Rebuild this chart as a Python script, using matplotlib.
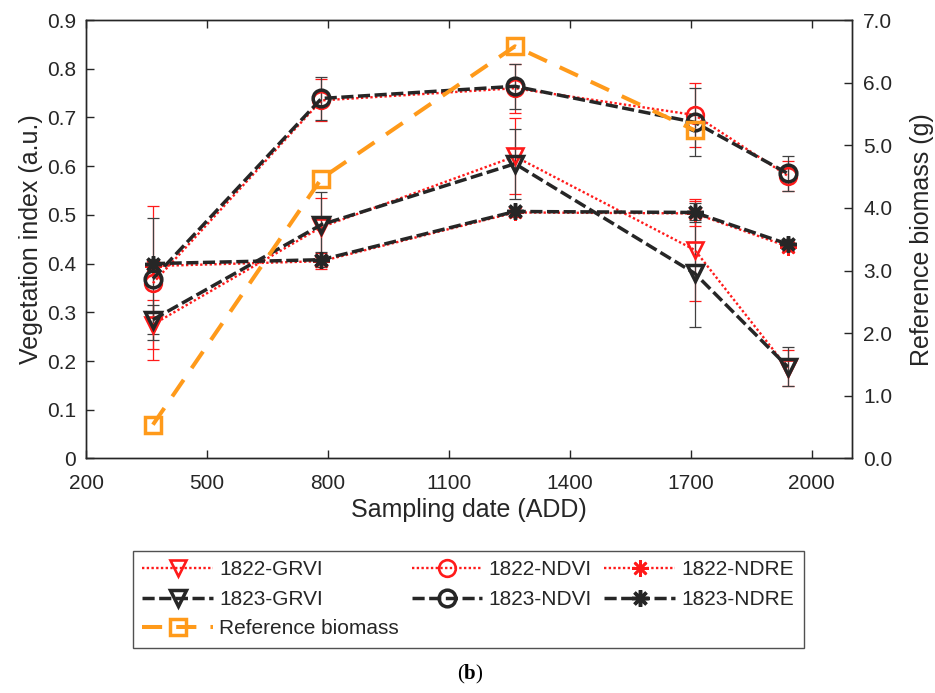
import numpy as np
import matplotlib
matplotlib.use("Agg")
import matplotlib.pyplot as plt
from matplotlib.ticker import MultipleLocator, FuncFormatter

plt.rcParams['font.family'] = ['Liberation Sans', 'DejaVu Sans']
plt.rcParams['mathtext.fontset'] = 'custom'
plt.rcParams['mathtext.rm'] = 'Liberation Serif'
plt.rcParams['mathtext.bf'] = 'Liberation Serif:bold'

# sampling dates (accumulated degree days)
add = [366, 784, 1264, 1710, 1941]

grvi_1822 = [0.275, 0.475, 0.620, 0.428, 0.185]
grvi_1822_sd = [0.050, 0.060, 0.078, 0.105, 0.037]
grvi_1823 = [0.285, 0.480, 0.605, 0.380, 0.188]
grvi_1823_sd = [0.030, 0.067, 0.072, 0.110, 0.040]

ndvi_1822 = [0.360, 0.735, 0.760, 0.705, 0.580]
ndvi_1822_sd = [0.158, 0.043, 0.050, 0.066, 0.030]
ndvi_1823 = [0.369, 0.739, 0.764, 0.690, 0.585]
ndvi_1823_sd = [0.125, 0.045, 0.046, 0.070, 0.036]

ndre_1822 = [0.395, 0.405, 0.505, 0.503, 0.435]
ndre_1822_sd = [0.010, 0.017, 0.010, 0.025, 0.010]
ndre_1823 = [0.400, 0.408, 0.507, 0.505, 0.440]
ndre_1823_sd = [0.010, 0.015, 0.010, 0.020, 0.010]

# reference biomass (g), right axis
biomass_add = [366, 784, 1264, 1710]
biomass = [0.54, 4.47, 6.58, 5.24]

xticks = [200, 500, 800, 1100, 1400, 1700, 2000]

RED = '#ff1a1a'
DARK = '#262626'
ORANGE = '#ff9a1a'

fig = plt.figure(figsize=(9.35, 6.93), dpi=100)
ax1 = fig.add_axes([0.092, 0.3384, 0.8192, 0.6327])

red_style = dict(color=RED, linestyle=(0, (1, 1)), linewidth=1.7,
                 markerfacecolor='none', markeredgecolor=RED, markeredgewidth=1.9)
dark_style = dict(color=DARK, linestyle=(0, (3.5, 1.3)), linewidth=2.5,
                  markerfacecolor='none', markeredgecolor=DARK, markeredgewidth=2.5)
asterisk = (8, 2, 0)

series = [
    (grvi_1822, grvi_1822_sd, 'v', 12, red_style, '1822-GRVI'),
    (grvi_1823, grvi_1823_sd, 'v', 12, dark_style, '1823-GRVI'),
    (ndvi_1822, ndvi_1822_sd, 'o', 12, red_style, '1822-NDVI'),
    (ndvi_1823, ndvi_1823_sd, 'o', 12, dark_style, '1823-NDVI'),
    (ndre_1822, ndre_1822_sd, asterisk, 12, red_style, '1822-NDRE'),
    (ndre_1823, ndre_1823_sd, asterisk, 12, dark_style, '1823-NDRE'),
]

handles = {}
for vals, sd, mk, ms, st, name in series:
    ecol = RED if st is red_style else '#404040'
    ax1.errorbar(add, vals, yerr=sd, fmt='none', ecolor=ecol, elinewidth=0.9,
                 capsize=4.5, capthick=0.9, zorder=2)
for vals, sd, mk, ms, st, name in series:
    z = 3 if st is red_style else 4
    h, = ax1.plot(add, vals, marker=mk, markersize=ms, label=name, zorder=z, **st)
    handles[name] = h

ax1.set_xlim(200, 2100)
ax1.set_ylim(0, 0.9)
ax1.set_xticks(xticks)
ax1.yaxis.set_major_locator(MultipleLocator(0.1))
ax1.yaxis.set_major_formatter(FuncFormatter(lambda v, p: f"{v:g}"))
ax1.tick_params(axis='x', direction='in', top=True, length=6, width=1,
                color=DARK, labelsize=15, pad=11, labelcolor=DARK)
ax1.tick_params(axis='y', direction='in', right=False, length=6, width=1,
                color=DARK, labelsize=15, pad=7, labelcolor=DARK)
ax1.set_xlabel('Sampling date (ADD)', fontsize=18, color=DARK, labelpad=4)
ax1.set_ylabel('Vegetation index (a.u.)', fontsize=18, color=DARK, labelpad=3)
for sp in ax1.spines.values():
    sp.set_color(DARK)
    sp.set_linewidth(1.0)

ax2 = ax1.twinx()
hb, = ax2.plot(biomass_add, biomass, color=ORANGE, linestyle=(0, (5, 3.5)),
               linewidth=2.9, marker='s', markersize=11, markerfacecolor='none',
               markeredgecolor=ORANGE, markeredgewidth=2.5, label='Reference biomass',
               zorder=5)
handles['Reference biomass'] = hb
ax2.set_ylim(0, 7)
ax2.yaxis.set_major_locator(MultipleLocator(1))
ax2.yaxis.set_major_formatter(FuncFormatter(lambda v, p: f"{v:.1f}"))
ax2.tick_params(axis='y', direction='in', length=6, width=1, color=DARK,
                labelsize=15, pad=8, labelcolor=DARK)
ax2.set_ylabel('Reference biomass (g)', fontsize=18, color=DARK, labelpad=13)
for sp in ax2.spines.values():
    sp.set_color(DARK)
    sp.set_linewidth(1.0)

order = ['1822-GRVI', '1823-GRVI', 'Reference biomass',
         '1822-NDVI', '1823-NDVI', '1822-NDRE', '1823-NDRE']
leg = fig.legend([handles[k] for k in order], order, ncol=3,
                 loc='upper left', bbox_to_anchor=(0.1422, 0.2049),
                 fontsize=15, frameon=True, fancybox=False, edgecolor=DARK,
                 handlelength=3.4, handletextpad=0.3, columnspacing=0.6,
                 labelspacing=0.5, borderpad=0.45, numpoints=1,
                 borderaxespad=0)
leg.get_frame().set_linewidth(1.0)
for t in leg.get_texts():
    t.set_color(DARK)

fig.text(0.503, 0.026, r'($\mathbf{b}$)', fontsize=15, ha='center',
         va='center', family='Liberation Serif')

fig.savefig('out.png', dpi=100, facecolor='white')
